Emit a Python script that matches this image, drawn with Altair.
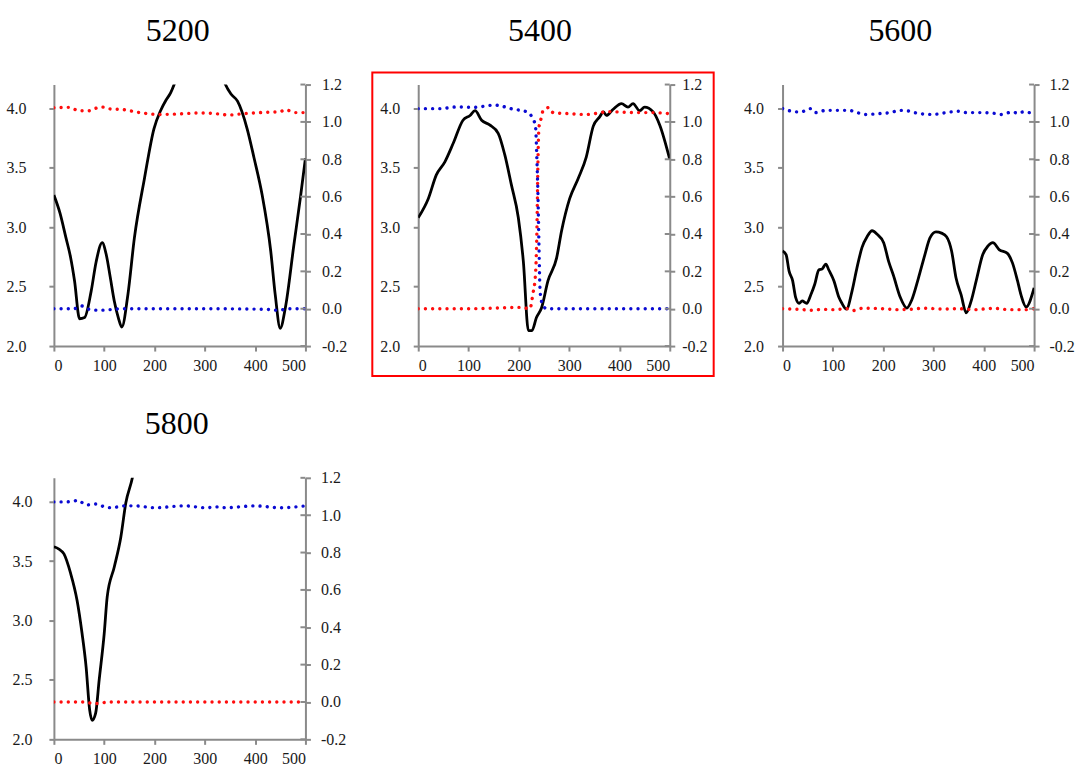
import altair as alt
import pandas as pd

# ---- axis ticks -------------------------------------------------------------
X_TICKS = [0, 100, 200, 300, 400, 500]
LEFT_TICKS = [2.0, 2.5, 3.0, 3.5, 4.0]
RIGHT_TICKS = [-0.2, 0.0, 0.2, 0.4, 0.6, 0.8, 1.0, 1.2]

PANELS = ["5200", "5400", "5600", "5800"]

# ---- 5200 -------------------------------------------------------------------
black_5200_x = [0, 12, 24, 33, 41, 51, 61, 74, 84, 96, 104, 112, 120, 128, 135,
                147, 160, 180, 199, 212, 223, 232, 239, 260, 290, 320, 341, 352,
                365, 384, 398, 414, 431, 440, 450, 460, 477, 490, 500]
black_5200_y = [3.27, 3.12, 2.91, 2.75, 2.55, 2.23, 2.24, 2.46, 2.71, 2.87, 2.77,
                2.58, 2.38, 2.24, 2.16, 2.43, 2.91, 3.41, 3.83, 3.98, 4.07, 4.13,
                4.20, 4.50, 4.65, 4.50, 4.20, 4.12, 4.06, 3.83, 3.58, 3.27, 2.80,
                2.43, 2.15, 2.32, 2.85, 3.25, 3.58]
red_5200_x = [0, 30, 50, 70, 80, 95, 110, 140, 170, 210, 250, 290, 330, 345, 380,
              410, 450, 460, 480, 500]
red_5200_y = [1.076, 1.078, 1.060, 1.060, 1.070, 1.080, 1.070, 1.065, 1.050,
              1.040, 1.043, 1.048, 1.042, 1.037, 1.045, 1.050, 1.055, 1.065,
              1.050, 1.050]
blue_5200_x = [0, 40, 55, 65, 90, 120, 135, 200, 300, 420, 445, 470, 500]
blue_5200_y = [0.0, 0.0, 0.015, 0.0, -0.008, -0.003, 0.0, 0.0, 0.0, -0.003,
               -0.008, 0.0, 0.0]

# ---- 5400 -------------------------------------------------------------------
black_5400_x = [0, 20, 36, 53, 70, 89, 103, 113, 126, 142, 159, 172, 185, 199,
                209, 219, 226, 235, 245, 258, 275, 285, 301, 318, 334, 348, 361,
                368, 374, 387, 404, 417, 427, 440, 450, 467, 480, 500]
black_5400_y = [3.08, 3.24, 3.44, 3.55, 3.71, 3.90, 3.94, 3.98, 3.90, 3.86, 3.79,
                3.61, 3.36, 3.08, 2.71, 2.13, 2.13, 2.24, 2.32, 2.55, 2.74, 2.97,
                3.24, 3.41, 3.59, 3.85, 3.93, 3.97, 3.94, 3.99, 4.04, 4.01, 4.04,
                3.98, 4.01, 3.97, 3.86, 3.57]
red_5400_x = [0, 100, 202, 222, 228, 233, 236, 238, 240, 245, 248, 260, 268, 301,
              334, 381, 427, 467, 500]
red_5400_y = [0.0, 0.0, 0.007, 0.0, 0.08, 0.18, 0.43, 0.79, 0.97, 1.025, 1.06,
              1.077, 1.05, 1.044, 1.040, 1.055, 1.050, 1.050, 1.044]
blue_5400_x = [0, 43, 76, 110, 152, 189, 215, 228, 233, 236, 238, 240, 242, 245,
               255, 350, 500]
blue_5400_y = [1.071, 1.071, 1.080, 1.078, 1.090, 1.068, 1.055, 1.016, 0.98,
               0.79, 0.61, 0.34, 0.11, 0.04, 0.0, 0.0, 0.0]

# ---- 5600 -------------------------------------------------------------------
black_5600_x = [0, 7, 13, 20, 26, 33, 39, 48, 56, 64, 72, 79, 86, 92, 102, 112,
                118, 127, 138, 148, 158, 168, 178, 188, 201, 211, 220, 234, 247,
                257, 270, 283, 293, 305, 316, 326, 336, 345, 355, 365, 375, 385,
                398, 408, 418, 431, 447, 457, 467, 474, 484, 500]
black_5600_y = [2.80, 2.77, 2.63, 2.55, 2.41, 2.36, 2.38, 2.36, 2.43, 2.52, 2.64,
                2.65, 2.69, 2.64, 2.55, 2.41, 2.36, 2.31, 2.46, 2.66, 2.83, 2.92,
                2.97, 2.94, 2.87, 2.71, 2.60, 2.41, 2.32, 2.39, 2.57, 2.77, 2.91,
                2.96, 2.95, 2.92, 2.80, 2.57, 2.43, 2.28, 2.38, 2.55, 2.77, 2.84,
                2.87, 2.81, 2.78, 2.70, 2.55, 2.43, 2.33, 2.49]
red_5600_x = [0, 30, 60, 80, 100, 130, 140, 160, 200, 230, 260, 280, 320, 350,
              380, 420, 450, 480, 500]
red_5600_y = [0.0, -0.003, -0.008, -0.003, -0.005, 0.0, -0.010, 0.003, 0.0,
              -0.005, -0.002, 0.003, -0.002, 0.0, -0.005, 0.002, -0.005, -0.005,
              0.0]
blue_5600_x = [0, 10, 36, 56, 66, 86, 105, 132, 145, 164, 194, 214, 234, 253,
               270, 299, 326, 349, 365, 391, 424, 434, 457, 470, 477, 500]
blue_5600_y = [1.071, 1.062, 1.053, 1.071, 1.050, 1.062, 1.062, 1.062, 1.053,
               1.040, 1.045, 1.050, 1.062, 1.057, 1.045, 1.040, 1.050, 1.057,
               1.050, 1.050, 1.045, 1.040, 1.053, 1.045, 1.053, 1.045]

# ---- 5800 -------------------------------------------------------------------
black_5800_x = [0, 10, 20, 33, 46, 56, 64, 71, 76, 83, 90, 100, 106, 120, 133,
                143, 156, 170]
black_5800_y = [3.62, 3.60, 3.56, 3.40, 3.17, 2.89, 2.61, 2.25, 2.16, 2.22, 2.50,
                2.89, 3.20, 3.45, 3.70, 3.99, 4.20, 4.55]
red_5800_x = [0, 60, 70, 85, 95, 110, 200, 300, 400, 500]
red_5800_y = [0.0, 0.0, -0.005, -0.008, -0.005, 0.0, 0.0, 0.0, 0.0, 0.0]
blue_5800_x = [0, 20, 40, 47, 65, 85, 100, 115, 140, 160, 200, 260, 300, 330,
               340, 400, 450, 500]
blue_5800_y = [1.071, 1.071, 1.075, 1.080, 1.055, 1.060, 1.045, 1.040, 1.050,
               1.050, 1.040, 1.050, 1.040, 1.045, 1.040, 1.050, 1.040, 1.050]

SERIES = {
    "5200": {"black": (black_5200_x, black_5200_y), "red": (red_5200_x, red_5200_y),
             "blue": (blue_5200_x, blue_5200_y)},
    "5400": {"black": (black_5400_x, black_5400_y), "red": (red_5400_x, red_5400_y),
             "blue": (blue_5400_x, blue_5400_y)},
    "5600": {"black": (black_5600_x, black_5600_y), "red": (red_5600_x, red_5600_y),
             "blue": (blue_5600_x, blue_5600_y)},
    "5800": {"black": (black_5800_x, black_5800_y), "red": (red_5800_x, red_5800_y),
             "blue": (blue_5800_x, blue_5800_y)},
}

rows = []
for panel_name, series in SERIES.items():
    for key, (xs, ys) in series.items():
        for order, (xv, yv) in enumerate(zip(xs, ys)):
            rows.append({"panel": panel_name, "series": key, "x": xv, "v": yv,
                         "order": order})
df = pd.DataFrame(rows)

# ---- styling ----------------------------------------------------------------
FONT = "Liberation Serif"
AXIS_GREY = "#8a8a8a"
RED = "#ff0d0d"
BLUE = "#0a0ad2"
W, H = 252, 262
TICK = 5

# per-panel spacing of the tick labels from the axes and title nudges
LAYOUT = {
    "5200": dict(left_pad=23, right_pad=11, title_dx=-2, title_offset=29),
    "5400": dict(left_pad=13.5, right_pad=7, title_dx=-4, title_offset=24),
    "5600": dict(left_pad=14, right_pad=10, title_dx=-8, title_offset=29),
    "5800": dict(left_pad=17, right_pad=10, title_dx=-3, title_offset=29),
}

common_axis = dict(
    domainColor=AXIS_GREY, domainWidth=2, tickColor=AXIS_GREY, tickWidth=2,
    tickSize=TICK, labelFont=FONT, labelFontSize=16, labelColor="#1a1a1a",
    grid=False, title=None,
)
label_expr = ("datum.value < 0 ? '-' + format(-datum.value, '.1f') "
              ": format(datum.value, '.1f')")

x_axis = alt.Axis(values=X_TICKS, format="d", labelPadding=6, **common_axis)
right_scale = alt.Scale(domain=[-0.2, 1.2], nice=False, zero=False)


def make_panel(name, framed=False):
    lay = LAYOUT[name]
    data = df[df["panel"] == name]
    x_enc = alt.X("x:Q", scale=alt.Scale(domain=[0, 500], nice=False),
                  axis=x_axis)
    left_axis = alt.Axis(values=LEFT_TICKS, labelExpr=label_expr,
                         labelPadding=lay["left_pad"], orient="left",
                         **common_axis)
    right_axis = alt.Axis(values=RIGHT_TICKS, labelExpr=label_expr,
                          labelPadding=lay["right_pad"], orient="right",
                          **common_axis)

    black = alt.Chart(data).transform_filter(
        alt.datum.series == "black"
    ).mark_line(color="black", strokeWidth=2.8, clip=True,
                interpolate="monotone").encode(
        x=x_enc,
        y=alt.Y("v:Q", scale=alt.Scale(domain=[2.0, 4.2], nice=False,
                                        zero=False), axis=left_axis),
        order="order:Q",
    )

    dotted = alt.Chart(data).transform_filter(
        alt.datum.series != "black"
    ).mark_line(strokeWidth=3.4, strokeDash=[0.01, 7.2], strokeCap="round",
                clip=True, interpolate="monotone").encode(
        x=x_enc,
        y=alt.Y("v:Q", scale=right_scale, axis=right_axis),
        color=alt.Color("series:N",
                        scale=alt.Scale(domain=["red", "blue"],
                                        range=[RED, BLUE]),
                        legend=None),
        order="order:Q",
    )

    # the right-hand ticks cross the axis: add their inner halves
    inner_ticks = alt.Chart(
        alt.Data(values=[{"v": t} for t in RIGHT_TICKS])
    ).mark_rule(color=AXIS_GREY, strokeWidth=2).encode(
        x=alt.value(W - TICK), x2=alt.value(W),
        y=alt.Y("v:Q", scale=right_scale, axis=right_axis),
    )

    layers = [black, alt.layer(dotted, inner_ticks)]
    if framed:
        frame = alt.Chart(alt.Data(values=[{}])).mark_rect(
            fillOpacity=0, stroke="#ff0000", strokeWidth=2, clip=False
        ).encode(
            x=alt.value(-46), x2=alt.value(W + 44),
            y=alt.value(-12), y2=alt.value(H + 30),
        )
        layers.append(frame)

    return alt.layer(*layers).resolve_scale(y="independent").properties(
        width=W, height=H,
        title=alt.TitleParams(name, font=FONT, fontSize=32, fontWeight="normal",
                              color="black", offset=lay["title_offset"],
                              dx=lay["title_dx"], frame="group"),
    )


chart = alt.concat(
    make_panel("5200"),
    make_panel("5400", framed=True),
    make_panel("5600"),
    make_panel("5800"),
    columns=3,
    spacing=alt.RowColnumber(row=132, column=113),
    bounds="flush",
).properties(
    padding={"left": 5, "top": 13, "right": 5, "bottom": 0},
    background="white",
).configure_view(
    stroke="transparent"
).configure_axis(
    labelFont=FONT, labelFontSize=16
)

chart.save("out.html", embed_options={"renderer": "svg", "actions": False})
